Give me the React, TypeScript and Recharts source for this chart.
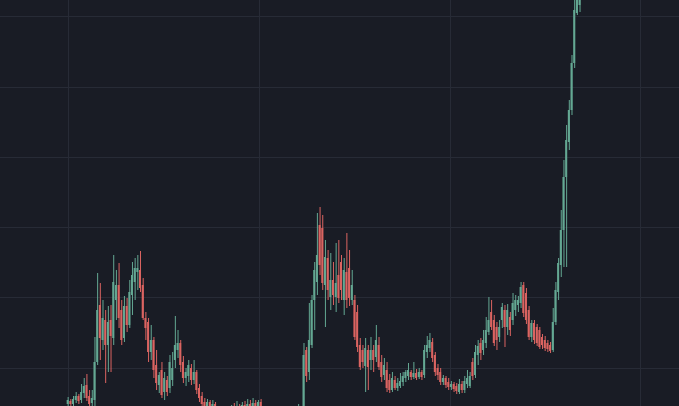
/* Candlestick chart on a dark theme: range bars for wicks and bodies,
   each series on its own (identical) numeric x axis so they sit centred. */

import { Bar, CartesianGrid, Cell, ComposedChart, XAxis, YAxis } from 'recharts'

const THEME = {
  bg: '#191c25',
  grid: '#272b36',
  up: '#64a893',
  down: '#db6461',
}

const X_DOMAIN: [number, number] = [-25.37, 227.99]
const Y_DOMAIN: [number, number] = [32, 438]
// Candle index ticks where the vertical gridlines fall.
const X_TICKS = [0, 71.2, 142.4, 213.6]
// Price levels of the horizontal gridlines.
const Y_TICKS = [70, 141, 211, 281, 351, 422]

const OPENS = [
  34, 37, 34, 38, 42, 38, 45, 53, 42, 35, 38, 76, 133, 98, 118, 93, 118, 100, 138, 153,
  128, 100, 132, 113, 143, 156, 166, 168, 153, 120, 116, 86, 98, 73, 53, 68, 46, 58, 50, 58,
  78, 88, 95, 76, 60, 62, 70, 58, 66, 50, 42, 36, 30, 36, 28, 34, 26, 20, 24, 18,
  14, 22, 28, 24, 30, 25, 33, 28, 34, 29, 35, 32, 36, 28, 20, 12, 18, 10, 16, 8,
  14, 20, 14, 22, 26, 20, 28, 28, 32, 88, 66, 93, 138, 156, 213, 210, 153, 180, 141, 158,
  141, 163, 176, 138, 166, 170, 138, 138, 126, 93, 88, 72, 88, 78, 88, 81, 93, 76, 63, 68,
  58, 48, 58, 50, 52, 56, 60, 62, 66, 61, 65, 61, 66, 63, 86, 90, 96, 83, 70, 66,
  56, 60, 56, 51, 54, 52, 46, 54, 48, 54, 52, 76, 63, 83, 95, 88, 95, 106, 126, 118,
  111, 101, 118, 128, 111, 121, 118, 128, 133, 135, 153, 145, 128, 101, 115, 111, 108, 101, 98, 95,
  93, 88, 116, 146, 173, 208, 261, 296, 328, 375, 425, 433,
]
const CLOSES = [
  38, 34, 39, 42, 37, 46, 52, 40, 34, 40, 76, 128, 100, 120, 93, 116, 102, 156, 153, 120,
  98, 132, 113, 146, 163, 170, 170, 150, 120, 110, 86, 98, 68, 55, 63, 43, 60, 46, 76, 70,
  93, 95, 73, 60, 66, 73, 58, 66, 48, 40, 34, 28, 36, 30, 34, 26, 20, 24, 18, 14,
  22, 28, 24, 30, 25, 33, 28, 34, 29, 35, 32, 36, 28, 20, 12, 18, 10, 16, 8, 14,
  20, 14, 22, 26, 20, 28, 32, 30, 83, 62, 98, 138, 168, 183, 173, 155, 181, 148, 158, 143,
  155, 140, 148, 168, 138, 140, 153, 101, 91, 71, 76, 90, 71, 88, 78, 98, 71, 61, 73, 50,
  48, 60, 50, 55, 57, 62, 66, 68, 61, 65, 60, 66, 61, 88, 93, 98, 80, 66, 63, 56,
  60, 53, 51, 54, 49, 47, 54, 48, 57, 60, 62, 62, 86, 92, 85, 98, 108, 118, 111, 95,
  98, 111, 131, 111, 128, 108, 135, 138, 138, 151, 125, 118, 101, 115, 98, 95, 91, 93, 90, 89,
  87, 116, 148, 175, 208, 261, 298, 328, 375, 428, 468, 498,
]
const HIGHS = [
  41, 39, 42, 46, 44, 54, 60, 64, 48, 48, 101, 165, 155, 138, 128, 132, 133, 183, 168, 175,
  138, 142, 140, 158, 176, 180, 183, 187, 160, 126, 120, 113, 101, 88, 66, 76, 66, 62, 83, 86,
  122, 108, 98, 82, 70, 78, 74, 78, 68, 54, 46, 40, 39, 38, 38, 36, 29, 27, 26, 21,
  26, 33, 35, 37, 34, 36, 37, 39, 38, 40, 38, 38, 39, 32, 24, 22, 22, 20, 20, 18,
  24, 23, 26, 28, 28, 30, 34, 32, 95, 91, 135, 143, 176, 225, 231, 223, 198, 188, 185, 176,
  195, 198, 183, 180, 205, 188, 168, 143, 133, 100, 93, 100, 93, 101, 93, 113, 101, 83, 80, 76,
  64, 66, 62, 60, 65, 66, 68, 75, 68, 76, 69, 70, 68, 93, 102, 105, 100, 86, 74, 70,
  63, 62, 60, 57, 56, 55, 59, 57, 62, 68, 66, 80, 93, 98, 100, 108, 121, 141, 138, 123,
  116, 118, 135, 133, 134, 126, 145, 143, 142, 156, 156, 150, 132, 118, 118, 114, 111, 104, 102, 98,
  96, 130, 156, 180, 228, 278, 313, 338, 383, 443, 488, 518,
]
const LOWS = [
  30, 30, 31, 35, 34, 35, 40, 37, 30, 28, 28, 73, 78, 88, 55, 66, 66, 93, 118, 110,
  93, 96, 106, 110, 123, 138, 148, 146, 118, 98, 76, 78, 60, 48, 45, 40, 38, 42, 45, 52,
  70, 80, 66, 55, 52, 56, 53, 54, 44, 36, 30, 24, 26, 26, 24, 22, 17, 16, 14, 10,
  11, 19, 20, 21, 21, 22, 25, 25, 26, 26, 28, 28, 24, 16, 8, 8, 6, 6, 4, 4,
  10, 10, 11, 18, 16, 16, 24, 22, 26, 56, 58, 90, 108, 143, 163, 148, 111, 138, 128, 133,
  126, 135, 138, 123, 130, 132, 133, 98, 86, 68, 70, 46, 48, 68, 66, 76, 68, 56, 58, 46,
  45, 46, 48, 47, 50, 52, 56, 58, 58, 59, 58, 59, 58, 60, 80, 86, 76, 62, 58, 53,
  53, 50, 48, 48, 46, 44, 44, 45, 45, 50, 50, 58, 60, 73, 78, 83, 90, 103, 108, 92,
  88, 96, 110, 91, 103, 102, 113, 122, 126, 130, 121, 114, 98, 96, 94, 92, 89, 89, 87, 86,
  85, 86, 113, 138, 161, 171, 171, 288, 323, 370, 423, 426,
]

const candles = OPENS.map((open, i) => ({
  i,
  open,
  close: CLOSES[i],
  high: HIGHS[i],
  low: LOWS[i],
}))

type Candle = (typeof candles)[number]

const colorOf = (c: Candle) => (c.close >= c.open ? THEME.up : THEME.down)

type Offset = { left: number; top: number; width: number; height: number }

// Gridline positions: tick values mapped linearly over the plot box.
const horizontalLines = ({ offset }: { offset: Offset }) =>
  Y_TICKS.map(
    (t) =>
      Math.round(
        offset.top + ((Y_DOMAIN[1] - t) / (Y_DOMAIN[1] - Y_DOMAIN[0])) * offset.height,
      ) + 0.5,
  )
const verticalLines = ({ offset }: { offset: Offset }) =>
  X_TICKS.map(
    (t) =>
      Math.round(
        offset.left + ((t - X_DOMAIN[0]) / (X_DOMAIN[1] - X_DOMAIN[0])) * offset.width,
      ) + 0.5,
  )

export default function App() {
  return (
    <div style={{ width: 679, height: 406, background: THEME.bg }}>
      <style>{'body{margin:0;background:' + THEME.bg + '}'}</style>
      <ComposedChart
        width={679}
        height={406}
        data={candles}
        margin={{ top: 0, right: 0, bottom: 0, left: 0 }}
      >
        <CartesianGrid
          xAxisId="body"
          stroke={THEME.grid}
          strokeWidth={1}
          horizontalCoordinatesGenerator={horizontalLines}
          verticalCoordinatesGenerator={verticalLines}
        />
        <XAxis
          xAxisId="body"
          dataKey="i"
          type="number"
          domain={X_DOMAIN}
          allowDataOverflow
          ticks={X_TICKS}
          height={0}
          tick={false}
          tickLine={false}
          axisLine={false}
        />
        <XAxis
          xAxisId="wick"
          dataKey="i"
          type="number"
          domain={X_DOMAIN}
          allowDataOverflow
          ticks={X_TICKS}
          height={0}
          tick={false}
          tickLine={false}
          axisLine={false}
        />
        <YAxis
          type="number"
          domain={Y_DOMAIN}
          allowDataOverflow
          ticks={Y_TICKS}
          width={0}
          tick={false}
          tickLine={false}
          axisLine={false}
        />
        <Bar
          xAxisId="wick"
          dataKey={(d: Candle) => [d.low, d.high]}
          barSize={1}
          isAnimationActive={false}
        >
          {candles.map((c) => (
            <Cell key={c.i} fill={colorOf(c)} />
          ))}
        </Bar>
        <Bar
          xAxisId="body"
          dataKey={(d: Candle) => [Math.min(d.open, d.close), Math.max(d.open, d.close)]}
          barSize={2}
          minPointSize={1}
          isAnimationActive={false}
        >
          {candles.map((c) => (
            <Cell key={c.i} fill={colorOf(c)} />
          ))}
        </Bar>
      </ComposedChart>
    </div>
  )
}
